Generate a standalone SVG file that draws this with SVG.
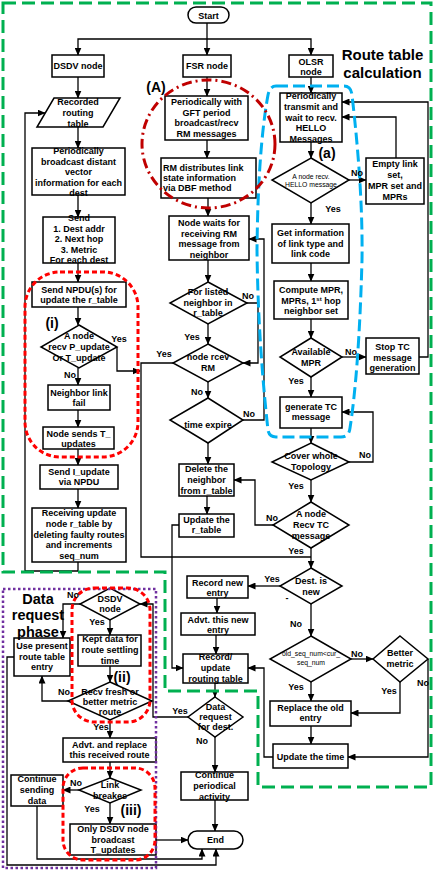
<svg xmlns="http://www.w3.org/2000/svg" width="436" height="872" viewBox="0 0 436 872">
<defs>
<marker id="ah" markerWidth="8" markerHeight="7" refX="7.5" refY="3.5" orient="auto" markerUnits="userSpaceOnUse"><path d="M0,0 L8,3.5 L0,7 Z" fill="#000"/></marker>
</defs>
<style>
.b{fill:#fff;stroke:#000;stroke-width:1.5}
.t{font-family:"Liberation Sans",Arial,sans-serif;font-weight:bold;font-size:9px;text-anchor:middle;fill:#000}
.tl{font-family:"Liberation Sans",Arial,sans-serif;font-weight:bold;font-size:9px;text-anchor:start;fill:#000}
.s{font-family:"Liberation Sans",Arial,sans-serif;font-size:6.8px;text-anchor:middle;fill:#000}
.c{fill:none;stroke:#000;stroke-width:1.3}
.a{marker-end:url(#ah)}
.L{font-family:"Liberation Sans",Arial,sans-serif;font-weight:bold;font-size:14px;text-anchor:middle;fill:#000}
.H{font-family:"Liberation Sans",Arial,sans-serif;font-weight:bold;font-size:15px;text-anchor:middle;fill:#000}
.D{font-family:"Liberation Sans",Arial,sans-serif;font-weight:bold;font-size:14.5px;text-anchor:middle;fill:#000}
.red{fill:none;stroke:#ff0000;stroke-width:3;stroke-dasharray:5 3}
</style>
<rect width="436" height="872" fill="#fff"/>
<g id="connectors">
<path class="c a" d="M207,23 V55"/>
<path class="c a" d="M207,39 H78 V55"/>
<path class="c a" d="M207,39 H311 V55"/>
<path class="c a" d="M78,77 V98"/>
<path class="c a" d="M78,127 V148"/>
<path class="c a" d="M78,195 V217"/>
<path class="c a" d="M78,263 V282"/>
<path class="c a" d="M78,307 V325"/>
<path class="c a" d="M78,368 V385"/>
<path class="c a" d="M78,410 V427"/>
<path class="c a" d="M78,449 V465"/>
<path class="c a" d="M78,489 V508"/>
<path class="c a" d="M78,562 V571 H25 V113 H45"/>
<path class="c a" d="M117,347 V371 H140"/>
<path class="c a" d="M207,77 V96"/>
<path class="c a" d="M207,140 V158"/>
<path class="c a" d="M208,198 V216"/>
<path class="c a" d="M208,260 V282"/>
<path class="c a" d="M208,324 V344"/>
<path class="c a" d="M208,382 V398"/>
<path class="c a" d="M208,443 V464"/>
<path class="c a" d="M207,496 V514"/>
<path class="c a" d="M247,303 H258 V363 H243"/>
<path class="c a" d="M243,420 H264 V239 H249"/>
<path class="c" d="M173,363 H141 V557 H311"/>
<path class="c a" d="M179,525 H172 V668 H183"/>
<path class="c a" d="M311,77 V93"/>
<path class="c a" d="M311,142 V158"/>
<path class="c a" d="M349,180 H366"/>
<path class="c a" d="M396,158 V117 H342"/>
<path class="c a" d="M311,203 V224"/>
<path class="c a" d="M311,263 V281"/>
<path class="c a" d="M311,319 V338"/>
<path class="c a" d="M342,357 H366"/>
<path class="c a" d="M419,357 H428 V102 H342"/>
<path class="c a" d="M311,377 V397"/>
<path class="c a" d="M311,428 V443"/>
<path class="c a" d="M349,462 H373 V412 H342"/>
<path class="c a" d="M311,480 V502"/>
<path class="c a" d="M273,525 H255 V480 H234"/>
<path class="c a" d="M311,548 V568"/>
<path class="c a" d="M280,586 H248"/>
<path class="c a" d="M217,598 V613"/>
<path class="c a" d="M216,635 V654"/>
<path class="c a" d="M311,604 V636"/>
<path class="c a" d="M351,659 H373"/>
<path class="c a" d="M400,682 V713 H351"/>
<path class="c a" d="M428,659 V757 H348"/>
<path class="c a" d="M311,682 V701"/>
<path class="c a" d="M311,726 V744"/>
<path class="c a" d="M273,757 H264 V668 H248"/>
<path class="c a" d="M215,683 V697"/>
<path class="c a" d="M188,717 H153 V604 H140"/>
<path class="c a" d="M215,737 V772"/>
<path class="c a" d="M215,800 V831"/>
<path class="c a" d="M110,620 V635"/>
<path class="c a" d="M80,604 H63 V638"/>
<path class="c a" d="M110,666 V682"/>
<path class="c a" d="M68,701 H42 V676"/>
<path class="c a" d="M110,720 V738"/>
<path class="c a" d="M110,762 V778"/>
<path class="c a" d="M79,790 H63"/>
<path class="c a" d="M110,803 V824"/>
<path class="c a" d="M156,840 H188"/>
<path class="c a" d="M37,806 V859 H202 V849"/>
<path class="c a" d="M14,657 H7 V865 H216 V849"/>
</g>

<g id="start"><rect class="b" x="188" y="7" width="41" height="16" rx="8"/><text class="t" x="208.5" y="18.5">Start</text></g>
<g id="dsdv"><rect class="b" x="52" y="55" width="52" height="22"/><text class="t" x="78" y="69">DSDV node</text></g>
<g id="fsr"><rect class="b" x="183" y="55" width="48" height="22"/><text class="t" x="207" y="69">FSR node</text></g>
<g id="olsr"><rect class="b" x="289" y="55" width="44" height="22"/><text class="t" x="311" y="64.5">OLSR</text><text class="t" x="311" y="74.5">node</text></g>

<g id="recorded"><polygon class="b" points="54,98 120,98 103,127 37,127"/><text class="t"><tspan x="78" y="105">Recorded</tspan><tspan x="78" y="116">routing</tspan><tspan x="78" y="127">table</tspan></text></g>
<g id="pbcast"><rect class="b" x="32" y="148" width="93" height="47"/><text class="t"><tspan x="78.5" y="154">Periodically</tspan><tspan x="78.5" y="164.5">broadcast distant</tspan><tspan x="78.5" y="175">vector</tspan><tspan x="78.5" y="185.5">information for each</tspan><tspan x="78.5" y="196">dest</tspan></text></g>
<g id="send"><rect class="b" x="43" y="217" width="72" height="46"/><text class="t"><tspan x="79" y="221">Send</tspan><tspan x="79" y="231.5">1. Dest addr</tspan><tspan x="79" y="242">2. Next hop</tspan><tspan x="79" y="252.5">3. Metric</tspan><tspan x="79" y="263">For each dest</tspan></text></g>
<g id="npdu"><rect class="b" x="32" y="282" width="94" height="25"/><text class="t"><tspan x="79" y="292.5">Send NPDU(s) for</tspan><tspan x="79" y="302.5">update the r_table</tspan></text></g>
<g id="recvp"><polygon class="b" points="79,325 117,347 79,368 41,347"/><text class="t"><tspan x="79" y="339">A node</tspan><tspan x="79" y="350">recv P_update</tspan><tspan x="79" y="360.5">Or T_update</tspan></text></g>
<g id="nlf"><rect class="b" x="48" y="385" width="62" height="25"/><text class="t"><tspan x="79" y="395.5">Neighbor link</tspan><tspan x="79" y="405.5">fail</tspan></text></g>
<g id="nst"><rect class="b" x="43" y="427" width="71" height="22"/><text class="t"><tspan x="78.5" y="436.5">Node sends T_</tspan><tspan x="78.5" y="447">updates</tspan></text></g>
<g id="sendi"><rect class="b" x="40" y="465" width="78" height="24"/><text class="t"><tspan x="79" y="475">Send I_update</tspan><tspan x="79" y="485">via NPDU</tspan></text></g>
<g id="recvupd"><rect class="b" x="32" y="508" width="94" height="54"/><text class="t"><tspan x="79" y="516">Receiving update</tspan><tspan x="79" y="527">node r_table by</tspan><tspan x="79" y="537.5">deleting faulty routes</tspan><tspan x="79" y="548">and increments</tspan><tspan x="79" y="558.5">seq_num</tspan></text></g>

<g id="gft"><rect class="b" x="165" y="96" width="83" height="44"/><text class="t"><tspan x="206.5" y="105">Periodically with</tspan><tspan x="206.5" y="115.5">GFT period</tspan><tspan x="206.5" y="126">broadcast/recv</tspan><tspan x="206.5" y="136.5">RM messages</tspan></text></g>
<g id="rmdist"><rect class="b" x="161" y="158" width="95" height="40"/><text class="tl"><tspan x="163" y="170.5">RM distributes link</tspan><tspan x="163" y="180.5">state information</tspan><tspan x="163" y="190.5">via DBF method</tspan></text></g>
<g id="nwait"><rect class="b" x="169" y="216" width="80" height="44"/><text class="t"><tspan x="209" y="226">Node waits for</tspan><tspan x="209" y="236.5">receiving RM</tspan><tspan x="209" y="247">message from</tspan><tspan x="209" y="257.5">neighbor</tspan></text></g>
<g id="listed"><polygon class="b" points="208,282 247,303 208,324 170,303"/><text class="t"><tspan x="208" y="295">For listed</tspan><tspan x="208" y="305.5">neighbor in</tspan><tspan x="208" y="316">r_table</tspan></text></g>
<g id="rcevrm"><polygon class="b" points="208,344 243,363 208,382 173,363"/><text class="t"><tspan x="208" y="360">node rcev</tspan><tspan x="208" y="370.5">RM</tspan></text></g>
<g id="texp"><polygon class="b" points="208,398 243,420 208,443 170,420"/><text class="t" x="208" y="428">time expire</text></g>
<g id="delnb"><rect class="b" x="179" y="464" width="55" height="32"/><text class="t"><tspan x="206.5" y="472">Delete the</tspan><tspan x="206.5" y="483">neighbor</tspan><tspan x="206.5" y="494">from r_table</tspan></text></g>
<g id="updrt"><rect class="b" x="179" y="514" width="55" height="23"/><text class="t"><tspan x="206.5" y="523">Update the</tspan><tspan x="206.5" y="533">r_table</tspan></text></g>

<g id="hello"><rect class="b" x="280" y="93" width="62" height="49"/><text class="t"><tspan x="311" y="99">Periodically</tspan><tspan x="311" y="110">transmit and</tspan><tspan x="311" y="120.5">wait to recv.</tspan><tspan x="311" y="131">HELLO</tspan><tspan x="311" y="141.5">Messages</tspan></text></g>
<g id="recvhello"><polygon class="b" points="311,158 349,180 311,203 272,180"/><text class="s"><tspan x="311" y="179">A node recv.</tspan><tspan x="311" y="186.5">HELLO message</tspan></text></g>
<g id="empty"><rect class="b" x="366" y="158" width="58" height="46"/><text class="t"><tspan x="395" y="167">Empty link</tspan><tspan x="395" y="178">set,</tspan><tspan x="395" y="189">MPR set and</tspan><tspan x="395" y="200">MPRs</tspan></text></g>
<g id="getinfo"><rect class="b" x="272" y="224" width="77" height="39"/><text class="t"><tspan x="310.5" y="236">Get information</tspan><tspan x="310.5" y="246.5">of link type and</tspan><tspan x="310.5" y="257">link code</tspan></text></g>
<g id="compute"><rect class="b" x="274" y="281" width="74" height="38"/><text class="t"><tspan x="311" y="293">Compute MPR,</tspan><tspan x="311" y="303.5">MPRs, 1<tspan font-size="6" dy="-3">st</tspan><tspan dy="3"> hop</tspan></tspan><tspan x="311" y="314">neighbor set</tspan></text></g>
<g id="avail"><polygon class="b" points="311,338 342,357 311,377 280,357"/><text class="t"><tspan x="311" y="355">Available</tspan><tspan x="311" y="365.5">MPR</tspan></text></g>
<g id="stoptc"><rect class="b" x="366" y="338" width="53" height="36"/><text class="t"><tspan x="392.5" y="350">Stop TC</tspan><tspan x="392.5" y="361">message</tspan><tspan x="392.5" y="371">generation</tspan></text></g>
<g id="gentc"><rect class="b" x="280" y="397" width="62" height="31"/><text class="t"><tspan x="311" y="410">generate TC</tspan><tspan x="311" y="420">message</tspan></text></g>
<g id="cover"><polygon class="b" points="311,443 349,462 311,480 272,462"/><text class="t"><tspan x="311" y="459">Cover whole</tspan><tspan x="311" y="470">Topology</tspan></text></g>
<g id="recvtc"><polygon class="b" points="311,502 349,525 311,548 273,525"/><text class="t"><tspan x="311" y="517">A node</tspan><tspan x="311" y="528">Recv TC</tspan><tspan x="311" y="539">message</tspan></text></g>
<g id="destnew"><polygon class="b" points="311,568 342,586 311,604 280,586"/><text class="t"><tspan x="311" y="584">Dest. is</tspan><tspan x="311" y="594.5">new</tspan></text></g>
<g id="recnew"><rect class="b" x="187" y="576" width="61" height="22"/><text class="t"><tspan x="217.5" y="585.5">Record new</tspan><tspan x="217.5" y="595.5">entry</tspan></text></g>
<g id="advtnew"><rect class="b" x="181" y="613" width="74" height="22"/><text class="t"><tspan x="218" y="622.5">Advt. this new</tspan><tspan x="218" y="632.5">entry</tspan></text></g>
<g id="recupd"><rect class="b" x="183" y="654" width="65" height="29"/><text class="t"><tspan x="215.5" y="660">Record/</tspan><tspan x="215.5" y="671">update</tspan><tspan x="215.5" y="681.5">routing table</tspan></text></g>
<g id="oldseq"><polygon class="b" points="311,636 351,659 311,682 270,659"/><text class="s"><tspan x="311" y="656">old_seq_num&lt;cur_</tspan><tspan x="311" y="664.5">seq_num</tspan></text></g>
<g id="better"><polygon class="b" points="400,636 428,659 400,682 373,659"/><text class="t"><tspan x="400" y="656">Better</tspan><tspan x="400" y="666.5">metric</tspan></text></g>
<g id="replace"><rect class="b" x="270" y="701" width="81" height="25"/><text class="t"><tspan x="310.5" y="710.5">Replace the old</tspan><tspan x="310.5" y="721">entry</tspan></text></g>
<g id="updtime"><rect class="b" x="273" y="744" width="75" height="24"/><text class="t" x="310.5" y="760">Update the time</text></g>
<g id="datareq"><polygon class="b" points="215,697 243,717 215,737 188,717"/><text class="t"><tspan x="215.5" y="710">Data</tspan><tspan x="215.5" y="720">request</tspan><tspan x="215.5" y="730">for dest.</tspan></text></g>
<g id="contper"><rect class="b" x="181" y="772" width="67" height="28"/><text class="t"><tspan x="214.5" y="778">Continue</tspan><tspan x="214.5" y="789">periodical</tspan><tspan x="214.5" y="799.5">activity</tspan></text></g>
<g id="end"><rect class="b" x="188" y="831" width="55" height="18" rx="9"/><text class="t" x="215.5" y="843">End</text></g>

<g id="dsdvq"><polygon class="b" points="110,588 140,604 110,620 80,604"/><text class="t"><tspan x="110" y="602">DSDV</tspan><tspan x="110" y="612">node</tspan></text></g>
<g id="kept"><rect class="b" x="78" y="635" width="63" height="31"/><text class="t"><tspan x="110" y="642">Kept data for</tspan><tspan x="110" y="653">route settling</tspan><tspan x="110" y="664">time</tspan></text></g>
<g id="usepres"><rect class="b" x="14" y="638" width="56" height="38"/><text class="t"><tspan x="42" y="649">Use present</tspan><tspan x="42" y="660">route table</tspan><tspan x="42" y="670">entry</tspan></text></g>
<g id="recvfresh"><polygon class="b" points="110,682 152,701 110,720 68,701"/><text class="t"><tspan x="110" y="695">Recv fresh or</tspan><tspan x="110" y="704.5">better metric</tspan><tspan x="110" y="715">route</tspan></text></g>
<g id="advtrep"><rect class="b" x="63" y="738" width="93" height="24"/><text class="t"><tspan x="109.5" y="748">Advt. and replace</tspan><tspan x="109.5" y="758">this received route</tspan></text></g>
<g id="linkb"><polygon class="b" points="110,778 141,790 110,803 79,790"/><text class="t"><tspan x="110" y="788">Link</tspan><tspan x="110" y="799">breakes</tspan></text></g>
<g id="contsend"><rect class="b" x="11" y="775" width="52" height="31"/><text class="t"><tspan x="37" y="782">Continue</tspan><tspan x="37" y="793">sending</tspan><tspan x="37" y="804">data</tspan></text></g>
<g id="onlydsdv"><rect class="b" x="70" y="824" width="86" height="31"/><text class="t"><tspan x="113" y="832">Only DSDV node</tspan><tspan x="113" y="843">broadcast</tspan><tspan x="113" y="853">T_updates</tspan></text></g>

<g id="regions">
<path d="M3,3 H431 V787 H258 V691 H165 V572 H3 Z" fill="none" stroke="#00b050" stroke-width="3" stroke-dasharray="13 6"/>
<rect x="3" y="589" width="153" height="279" fill="none" stroke="#7030a0" stroke-width="2.5" stroke-dasharray="2.5 2.5"/>
<path d="M276,86 H344 Q351,86 352,95 Q363,190 362,260 Q359,370 350,428 Q349,437 341,437 H276 Q269,437 268,430 Q258,340 257,250 Q258,150 268,95 Q270,86 276,86 Z" fill="none" stroke="#00b0f0" stroke-width="3" stroke-dasharray="12 5"/>
<ellipse cx="208.5" cy="144" rx="66.5" ry="64" fill="none" stroke="#c00000" stroke-width="3" stroke-dasharray="10 4 2 4"/>
<rect class="red" x="25" y="272" width="113" height="185" rx="35"/>
<rect class="red" x="72" y="588" width="78" height="134" rx="22"/>
<rect class="red" x="63" y="768" width="92" height="92" rx="20"/>
</g>

<g id="labels">
<text class="H"><tspan x="382.5" y="60">Route table</tspan><tspan x="382.5" y="77.5">calculation</tspan></text>
<text class="D"><tspan x="38" y="603.5">Data</tspan><tspan x="38" y="620">request</tspan><tspan x="38" y="636.5">phase</tspan></text>
<text class="L" x="156" y="92">(A)</text>
<text class="L" x="327" y="158">(a)</text>
<text class="L" x="52" y="328">(i)</text>
<text class="L" x="122" y="682">(ii)</text>
<text class="L" x="131" y="815">(iii)</text>
<text class="t" x="119" y="342">Yes</text>
<text class="t" x="70" y="378">No</text>
<text class="t" x="164" y="357">Yes</text>
<text class="t" x="192" y="340">Yes</text>
<text class="t" x="197" y="395">No</text>
<text class="t" x="248" y="299">No</text>
<text class="t" x="249" y="417">No</text>
<text class="t" x="357" y="176">No</text>
<text class="t" x="333" y="212">Yes</text>
<text class="t" x="351" y="355">No</text>
<text class="t" x="296" y="384">Yes</text>
<text class="t" x="365" y="458">No</text>
<text class="t" x="296" y="489">Yes</text>
<text class="t" x="272" y="521">No</text>
<text class="t" x="296" y="554">Yes</text>
<text class="t" x="272" y="582">Yes</text>
<text class="t" x="287" y="601">-</text>
<text class="t" x="296" y="627">No</text>
<text class="t" x="357" y="657">No</text>
<text class="t" x="389" y="694">Yes</text>
<text class="t" x="423" y="686">No</text>
<text class="t" x="296" y="690">Yes</text>
<text class="t" x="180" y="714">Yes</text>
<text class="t" x="202" y="744">No</text>
<text class="t" x="73" y="598">No</text>
<text class="t" x="97" y="625">Yes</text>
<text class="t" x="64" y="695">No</text>
<text class="t" x="101" y="730">Yes</text>
<text class="t" x="76" y="786">No</text>
<text class="t" x="92" y="812">Yes</text>
</g>
</svg>
